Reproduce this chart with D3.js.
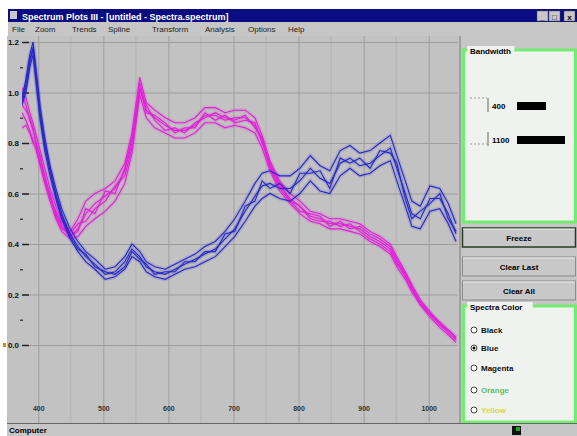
<!DOCTYPE html>
<html>
<head>
<meta charset="utf-8">
<title>Spectrum Plots</title>
<script src="https://cdn.jsdelivr.net/npm/d3@7"></script>
<style>
body { margin: 0; background: #fff; }
svg { display: block; font-family: "Liberation Sans", Arial, sans-serif; }
</style>
</head>
<body>
<svg id="chart" width="577" height="436"></svg>
<script>
// wavelengths (nm) shared by every spectrum
var wavelengths = [375,381,387,392,397,403,410,418,427,436,449,461,473,487,503,518,533,544,556,566,
    579,595,610,625,641,656,672,687,702,718,733,744,756,771,787,802,818,833,848,864,
    879,894,910,925,941,951,964,974,987,1002,1017,1030,1042];

// magenta spectra
var magenta1 = [0.99,0.95,0.89,0.85,0.80,0.74,0.67,0.59,0.52,0.47,0.43,0.46,0.52,0.56,0.59,0.62,0.69,0.80,1.04,0.93,
    0.90,0.87,0.85,0.85,0.87,0.91,0.91,0.89,0.90,0.90,0.87,0.81,0.71,0.63,0.58,0.55,0.51,0.50,0.48,0.48,
    0.47,0.46,0.43,0.41,0.38,0.33,0.27,0.22,0.17,0.12,0.08,0.05,0.02];
var magenta2 = [0.92,0.89,0.85,0.81,0.77,0.71,0.64,0.57,0.50,0.45,0.42,0.43,0.47,0.50,0.53,0.57,0.64,0.76,0.99,0.90,
    0.86,0.84,0.82,0.82,0.84,0.88,0.88,0.86,0.87,0.86,0.84,0.78,0.69,0.61,0.56,0.52,0.49,0.48,0.46,0.46,
    0.45,0.44,0.41,0.39,0.36,0.31,0.26,0.21,0.16,0.11,0.07,0.04,0.01];
var magenta3 = [1.02,0.98,0.92,0.88,0.83,0.77,0.70,0.62,0.55,0.49,0.45,0.50,0.57,0.60,0.62,0.65,0.72,0.84,1.06,0.96,
    0.93,0.90,0.88,0.88,0.90,0.94,0.94,0.92,0.93,0.93,0.90,0.83,0.73,0.65,0.60,0.57,0.53,0.52,0.50,0.50,
    0.49,0.48,0.45,0.43,0.40,0.35,0.29,0.24,0.18,0.13,0.09,0.06,0.03];
var magenta4 = [0.95,0.93,0.90,0.86,0.79,0.75,0.66,0.60,0.51,0.46,0.44,0.48,0.49,0.54,0.57,0.63,0.67,0.78,1.01,0.95,
    0.89,0.85,0.86,0.84,0.88,0.90,0.92,0.90,0.89,0.91,0.86,0.82,0.70,0.62,0.57,0.55,0.50,0.49,0.49,0.47,
    0.48,0.45,0.42,0.40,0.37,0.32,0.28,0.23,0.16,0.12,0.09,0.05,0.02];
var magenta5 = [0.86,0.87,0.84,0.80,0.78,0.72,0.65,0.58,0.53,0.48,0.43,0.45,0.54,0.52,0.61,0.60,0.70,0.82,1.02,0.92,
    0.91,0.88,0.84,0.86,0.86,0.92,0.89,0.91,0.88,0.89,0.88,0.80,0.72,0.64,0.57,0.53,0.52,0.51,0.47,0.49,
    0.46,0.47,0.44,0.42,0.39,0.34,0.28,0.23,0.17,0.13,0.08,0.06,0.03];

// blue spectra
var blue1 = [0.97,1.03,1.13,1.18,1.06,0.92,0.80,0.69,0.60,0.52,0.44,0.39,0.35,0.32,0.28,0.29,0.33,0.38,0.35,0.31,
    0.29,0.28,0.30,0.32,0.34,0.36,0.38,0.42,0.46,0.53,0.59,0.63,0.64,0.62,0.62,0.65,0.70,0.66,0.64,0.72,
    0.74,0.71,0.72,0.75,0.78,0.70,0.60,0.52,0.50,0.58,0.58,0.52,0.44];
var blue2 = [0.95,1.00,1.10,1.15,1.03,0.89,0.77,0.67,0.58,0.50,0.42,0.37,0.33,0.30,0.26,0.27,0.30,0.35,0.33,0.29,
    0.27,0.26,0.28,0.30,0.31,0.33,0.35,0.39,0.43,0.49,0.55,0.58,0.60,0.58,0.57,0.60,0.65,0.61,0.60,0.67,
    0.70,0.67,0.68,0.71,0.73,0.65,0.55,0.47,0.46,0.53,0.54,0.48,0.41];
var blue3 = [0.98,1.05,1.15,1.20,1.08,0.94,0.82,0.71,0.62,0.54,0.46,0.41,0.37,0.34,0.30,0.31,0.35,0.40,0.37,0.33,
    0.31,0.30,0.32,0.34,0.36,0.39,0.41,0.45,0.50,0.57,0.64,0.68,0.69,0.67,0.67,0.70,0.75,0.71,0.69,0.77,
    0.79,0.76,0.77,0.80,0.83,0.75,0.65,0.57,0.55,0.63,0.62,0.56,0.48];
var blue4 = [0.96,1.02,1.12,1.17,1.05,0.91,0.79,0.70,0.59,0.51,0.43,0.38,0.36,0.31,0.29,0.28,0.31,0.37,0.34,0.32,
    0.28,0.29,0.29,0.33,0.33,0.37,0.37,0.44,0.45,0.55,0.57,0.65,0.62,0.64,0.60,0.68,0.68,0.69,0.62,0.74,
    0.72,0.74,0.70,0.77,0.76,0.72,0.58,0.50,0.53,0.56,0.60,0.50,0.45];

// axis ticks
var xTicks = [400,500,600,700,800,900,1000];
var xMinor = [450,550,650,750,850,950];
var yTicks = [0,0.2,0.4,0.6,0.8,1.0,1.2];
var yMinor = [0.1,0.3,0.5,0.7,0.9,1.1];

// window texts
var menuItems = ['File','Zoom','Trends','Spline','Transform','Analysis','Options','Help'];
var buttons = ['Freeze','Clear Last','Clear All'];
var colorChoices = ['Black','Blue','Magenta','Orange','Yellow'];
var bandwidths = ['400','1100'];

var svg = d3.select('#chart');
var plotLeft = 22, plotRight = 458, plotTop = 36, plotBottom = 423;

var x = d3.scaleLinear().domain([375, 1045]).range([plotLeft, plotRight]);
var y = d3.scaleLinear().domain([0, 1.2]).range([345, 42]);

// title bar
svg.append('rect').attr('x', 8).attr('y', 9).attr('width', 569).attr('height', 13).attr('fill', '#0b0b82');
svg.append('rect').attr('x', 10).attr('y', 11).attr('width', 7).attr('height', 8).attr('fill', '#c8c8c8');
svg.append('text').attr('x', 22).attr('y', 19.5)
    .attr('font-size', 9).attr('font-weight', 'bold').attr('fill', '#fff')
    .text('Spectrum Plots III - [untitled - Spectra.spectrum]');
[537, 549, 564].forEach(function(bx, i) {
    svg.append('rect').attr('x', bx).attr('y', 11).attr('width', 11).attr('height', 10)
        .attr('fill', '#c8c8c8').attr('stroke', '#555').attr('stroke-width', 0.5);
    svg.append('text').attr('x', bx + 5.5).attr('y', 19.5).attr('text-anchor', 'middle')
        .attr('font-size', 8).attr('font-weight', 'bold').text(['_', '\u25a1', 'x'][i]);
});

// menu bar
svg.append('rect').attr('x', 8).attr('y', 22).attr('width', 569).attr('height', 14).attr('fill', '#c6c6c6');
var menuX = [12, 35, 72, 108, 152, 205, 248, 288];
svg.selectAll('text.menu').data(menuItems).enter().append('text')
    .attr('class', 'menu')
    .attr('x', function(d, i) { return menuX[i]; })
    .attr('y', 32)
    .attr('font-size', 8)
    .attr('fill', '#222')
    .text(function(d) { return d; });

// plot background
svg.append('rect').attr('x', 7).attr('y', plotTop).attr('width', plotRight - 7).attr('height', plotBottom - plotTop)
    .attr('fill', '#c2c2c2');

svg.append('clipPath').attr('id', 'plotclip')
    .append('rect').attr('x', plotLeft).attr('y', plotTop)
    .attr('width', plotRight - plotLeft).attr('height', plotBottom - plotTop);

// minor grid
svg.append('g').selectAll('line').data(xMinor).enter().append('line')
    .attr('x1', x).attr('x2', x).attr('y1', plotTop).attr('y2', plotBottom)
    .attr('stroke', '#b3b3b3').attr('stroke-width', 1);

// x grid and labels
var xGrid = svg.append('g')
    .attr('transform', 'translate(0,' + plotBottom + ')')
    .call(d3.axisBottom(x).tickValues(xTicks).tickSize(-(plotBottom - plotTop)).tickFormat(''));
xGrid.select('.domain').remove();
xGrid.selectAll('line').attr('stroke', '#9e9e9e');

var xLab = svg.append('g')
    .attr('transform', 'translate(0,402)')
    .call(d3.axisBottom(x).tickValues(xTicks).tickSize(0).tickPadding(4).tickFormat(d3.format('d')));
xLab.select('.domain').remove();
xLab.selectAll('text').attr('font-size', 7).attr('fill', '#333').attr('font-weight', 'bold');

// y grid and labels
var yGrid = svg.append('g')
    .attr('transform', 'translate(' + plotLeft + ',0)')
    .call(d3.axisLeft(y).tickValues(yTicks).tickSize(-(plotRight - plotLeft)).tickPadding(3)
        .tickFormat(d3.format('.1f')));
yGrid.select('.domain').remove();
yGrid.selectAll('line').attr('stroke', '#9e9e9e');
yGrid.selectAll('text').attr('font-size', 8).attr('font-weight', 'bold').attr('fill', '#111');

var yMark = svg.append('g')
    .attr('transform', 'translate(' + plotLeft + ',0)')
    .call(d3.axisRight(y).tickValues(yTicks).tickSize(7).tickFormat(''));
yMark.select('.domain').remove();
yMark.selectAll('line').attr('stroke', '#222').attr('stroke-width', 1.5);

var yMin = svg.append('g')
    .attr('transform', 'translate(' + (plotLeft - 2) + ',0)')
    .call(d3.axisRight(y).tickValues(yMinor).tickSize(3).tickFormat(''));
yMin.select('.domain').remove();
yMin.selectAll('line').attr('stroke', '#444').attr('stroke-width', 1.5);

svg.append('rect').attr('x', 3).attr('y', 343).attr('width', 3).attr('height', 4).attr('fill', '#d09000');

// spectra
var line = d3.line()
    .x(function(d, i) { return x(wavelengths[i]); })
    .y(function(d) { return y(d); });

var spectra = [
    {data: magenta1, color: '#e020d8'},
    {data: magenta2, color: '#e020d8'},
    {data: magenta3, color: '#e020d8'},
    {data: magenta4, color: '#e020d8'},
    {data: magenta5, color: '#e020d8'},
    {data: blue1, color: '#2828c8'},
    {data: blue2, color: '#2828c8'},
    {data: blue3, color: '#2828c8'},
    {data: blue4, color: '#2828c8'}
];

var plot = svg.append('g').attr('clip-path', 'url(#plotclip)');
plot.selectAll('path.halo').data(spectra).enter().append('path')
    .attr('class', 'halo')
    .attr('d', function(d) { return line(d.data); })
    .attr('fill', 'none')
    .attr('stroke', function(d) { return d.color; })
    .attr('stroke-opacity', 0.15)
    .attr('stroke-width', 4);
plot.selectAll('path.spec').data(spectra).enter().append('path')
    .attr('class', 'spec')
    .attr('d', function(d) { return line(d.data); })
    .attr('fill', 'none')
    .attr('stroke', function(d) { return d.color; })
    .attr('stroke-width', 1.1);

// side panel
svg.append('rect').attr('x', plotRight).attr('y', plotTop).attr('width', 577 - plotRight)
    .attr('height', plotBottom - plotTop).attr('fill', '#c6c6c6');
svg.append('line').attr('x1', 460).attr('x2', 460).attr('y1', plotTop).attr('y2', plotBottom)
    .attr('stroke', '#777');

function groupBox(gy, gh, title) {
    svg.append('rect').attr('x', 463.5).attr('y', gy).attr('width', 112).attr('height', gh)
        .attr('fill', '#f0f2f0').attr('stroke', '#70ee70').attr('stroke-width', 3);
    svg.append('rect').attr('x', 467).attr('y', gy - 4).attr('width', title.length * 4.6 + 6)
        .attr('height', 9).attr('fill', '#f0f2f0');
    svg.append('text').attr('x', 470).attr('y', gy + 3.5)
        .attr('font-size', 8).attr('font-weight', 'bold').text(title);
}

groupBox(50, 172, 'Bandwidth');
var bwY = [106, 140];
var bwLen = [29, 48];
bandwidths.forEach(function(b, i) {
    svg.append('line').attr('x1', 488).attr('x2', 488).attr('y1', bwY[i] - 8).attr('y2', bwY[i] + 6)
        .attr('stroke', '#666');
    svg.append('line').attr('x1', 470).attr('x2', 487).attr('y1', bwY[i] - 8 + i * 12).attr('y2', bwY[i] - 8 + i * 12)
        .attr('stroke', '#999').attr('stroke-dasharray', '2,2');
    svg.append('text').attr('x', 492).attr('y', bwY[i] + 3)
        .attr('font-size', 8).attr('font-weight', 'bold').text(b);
    svg.append('rect').attr('x', 517).attr('y', bwY[i] - 4).attr('width', bwLen[i]).attr('height', 8)
        .attr('fill', '#000');
});

var btnY = [228, 257, 281];
buttons.forEach(function(b, i) {
    svg.append('rect').attr('x', 462.5).attr('y', btnY[i]).attr('width', 113).attr('height', 19)
        .attr('fill', '#c8c8c8')
        .attr('stroke', i == 0 ? '#2a3a2a' : '#8a8a8a')
        .attr('stroke-width', i == 0 ? 1.5 : 1);
    svg.append('line').attr('x1', 463).attr('x2', 575).attr('y1', btnY[i] + 1).attr('y2', btnY[i] + 1)
        .attr('stroke', '#eee');
    svg.append('text').attr('x', 519).attr('y', btnY[i] + 12.5).attr('text-anchor', 'middle')
        .attr('font-size', 8).attr('font-weight', 'bold').text(b);
});

groupBox(306, 116, 'Spectra Color');
var radioY = [333, 351, 371, 393, 413];
var radioText = ['#111', '#111', '#111', '#5cc05c', '#d8d840'];
colorChoices.forEach(function(c, i) {
    svg.append('circle').attr('cx', 474).attr('cy', radioY[i] - 3).attr('r', 3)
        .attr('fill', '#fff').attr('stroke', '#444');
    if (c == 'Blue')
        svg.append('circle').attr('cx', 474).attr('cy', radioY[i] - 3).attr('r', 1.5).attr('fill', '#000');
    svg.append('text').attr('x', 481).attr('y', radioY[i])
        .attr('font-size', 8).attr('font-weight', 'bold').attr('fill', radioText[i]).text(c);
});

// status bar
svg.append('rect').attr('x', 7).attr('y', plotBottom).attr('width', 570).attr('height', 436 - plotBottom)
    .attr('fill', '#c6c6c6');
svg.append('line').attr('x1', 7).attr('x2', 577).attr('y1', plotBottom + 0.5).attr('y2', plotBottom + 0.5)
    .attr('stroke', '#666');
svg.append('text').attr('x', 9).attr('y', 433).attr('font-size', 8).attr('font-weight', 'bold')
    .text('Computer');
svg.append('rect').attr('x', 512).attr('y', 426).attr('width', 9).attr('height', 9).attr('fill', '#111');
svg.append('rect').attr('x', 516).attr('y', 427).attr('width', 4).attr('height', 4).attr('fill', '#2a2');
</script>
</body>
</html>
